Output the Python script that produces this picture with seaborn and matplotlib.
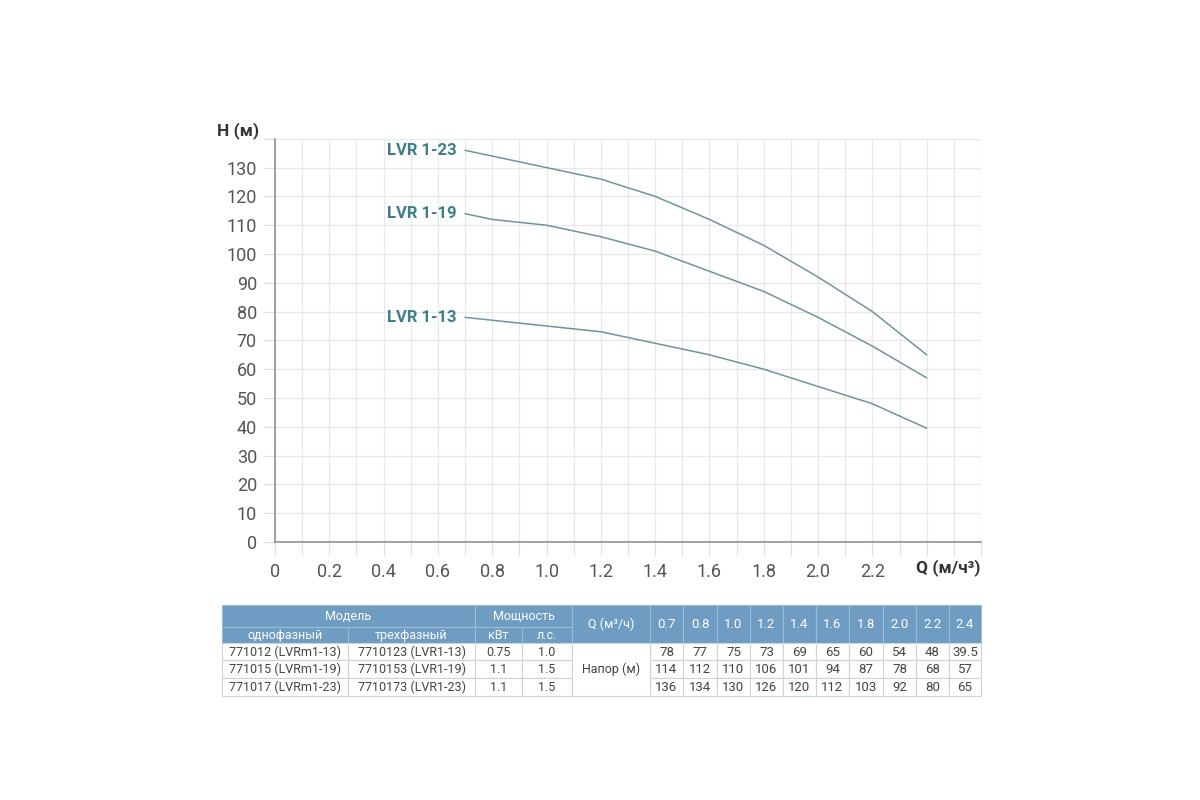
import numpy as np
import pandas as pd
import seaborn as sns
import matplotlib.pyplot as plt
from matplotlib.patches import Rectangle

# данные из таблицы
q = [0.7, 0.8, 1.0, 1.2, 1.4, 1.6, 1.8, 2.0, 2.2, 2.4]
h_13 = [78, 77, 75, 73, 69, 65, 60, 54, 48, 39.5]
h_19 = [114, 112, 110, 106, 101, 94, 87, 78, 68, 57]
h_23 = [136, 134, 130, 126, 120, 112, 103, 92, 80, 65]
models = ["LVR 1-13", "LVR 1-19", "LVR 1-23"]
single_phase = ["771012 (LVRm1-13)", "771015 (LVRm1-19)", "771017 (LVRm1-23)"]
three_phase = ["7710123 (LVR1-13)", "7710153 (LVR1-19)", "7710173 (LVR1-23)"]
kw = ["0.75", "1.1", "1.1"]
hp = ["1.0", "1.5", "1.5"]

df = pd.DataFrame({"Q": q * 3,
                   "H": h_13 + h_19 + h_23,
                   "model": [m for m in models for _ in q]})

sns.set_style("white")
plt.rcParams["font.family"] = ["Roboto", "DejaVu Sans"]
fig = plt.figure(figsize=(12, 8), dpi=100)
ax = fig.add_axes([275 / 1200, 1 - 542 / 800, 706 / 1200, (542 - 138.8) / 800])

line_col = "#6f959c"
sns.lineplot(data=df, x="Q", y="H", hue="model", palette=[line_col] * 3,
             legend=False, ax=ax, linewidth=1.1)

ax.set_xlim(0, 2.6)
ax.set_ylim(0, 140)
ax.set_xticks(np.arange(0, 2.61, 0.1), minor=True)
ax.set_xticks(np.arange(0, 2.61, 0.2))
ax.set_yticks(np.arange(0, 141, 10))
ax.grid(True, which="both", color="#e8e8e8", linewidth=0.9)
ax.set_axisbelow(True)

xlabels = ["0"] + [f"{v:.1f}" for v in np.arange(0.2, 2.21, 0.2)] + ["", ""]
ax.set_xticklabels(xlabels[:len(ax.get_xticks())])
ax.set_yticklabels([str(v) for v in range(0, 131, 10)] + [""])
ax.tick_params(axis="both", which="both", bottom=True, left=True, colors="#e0e0e0",
               labelcolor="#555555", labelsize=13, length=9, width=0.9)
ax.tick_params(axis="x", pad=6)
ax.tick_params(axis="y", pad=4)
ax.set_xlabel("")
ax.set_ylabel("")
for s in ["top", "right"]:
    ax.spines[s].set_visible(False)
for s in ["left", "bottom"]:
    ax.spines[s].set_color("#9a9a9a")
    ax.spines[s].set_linewidth(1.3)

ax.text(-0.06, 143, "H (м)", ha="right", va="center", fontsize=12.5,
        fontweight="bold", color="#333333")
ax.text(2.6, -8.8, "Q (м/ч³)", ha="right", va="center", fontsize=12.5,
        fontweight="bold", color="#333333")

lab_col = "#3d7e89"
for m, hs in zip(models, [h_13, h_19, h_23]):
    ax.text(0.67, hs[0], m, ha="right", va="center", fontsize=12,
            fontweight="bold", color=lab_col)

# таблица
tx = fig.add_axes([0, 0, 1, 1])
tx.set_xlim(0, 1200)
tx.set_ylim(800, 0)
tx.axis("off")

head_col = "#6f9cc2"
edge = "#c8d4de"
cols = [222, 348, 475, 522, 572, 650, 683, 717, 750, 783, 816, 849, 883, 916, 949, 981]
rows = [605, 627, 643, 660, 678, 696]

def cell(x0, x1, y0, y1, txt, bg="white", fc="#444444", fs=9):
    tx.add_patch(Rectangle((x0, y0), x1 - x0, y1 - y0, facecolor=bg,
                           edgecolor=edge if bg == "white" else "#9dbbd6", linewidth=0.8))
    tx.text((x0 + x1) / 2, (y0 + y1) / 2 + 0.5, txt, ha="center", va="center",
            fontsize=fs, color=fc)

w = "white"
cell(cols[0], cols[2], rows[0], rows[1], "Модель", head_col, w)
cell(cols[2], cols[4], rows[0], rows[1], "Мощность", head_col, w)
cell(cols[0], cols[1], rows[1], rows[2], "однофазный", head_col, w)
cell(cols[1], cols[2], rows[1], rows[2], "трехфазный", head_col, w)
cell(cols[2], cols[3], rows[1], rows[2], "кВт", head_col, w)
cell(cols[3], cols[4], rows[1], rows[2], "л.с.", head_col, w)
cell(cols[4], cols[5], rows[0], rows[2], "Q (м³/ч)", head_col, w)
for i, v in enumerate(q):
    cell(cols[5 + i], cols[6 + i], rows[0], rows[2], f"{v:.1f}", head_col, w, 9.5)

for r, hs in enumerate([h_13, h_19, h_23]):
    y0, y1 = rows[2 + r], rows[3 + r]
    cell(cols[0], cols[1], y0, y1, single_phase[r])
    cell(cols[1], cols[2], y0, y1, three_phase[r])
    cell(cols[2], cols[3], y0, y1, kw[r])
    cell(cols[3], cols[4], y0, y1, hp[r])
    for i, v in enumerate(hs):
        cell(cols[5 + i], cols[6 + i], y0, y1, f"{v:g}", fs=9.5)
tx.add_patch(Rectangle((cols[4], rows[2]), cols[5] - cols[4], rows[5] - rows[2],
                       facecolor="white", edgecolor=edge, linewidth=0.8))
tx.text((cols[4] + cols[5]) / 2, (rows[3] + rows[4]) / 2 + 0.5, "Напор (м)",
        ha="center", va="center", fontsize=9, color="#444444")

fig.savefig("out.png", dpi=100)
